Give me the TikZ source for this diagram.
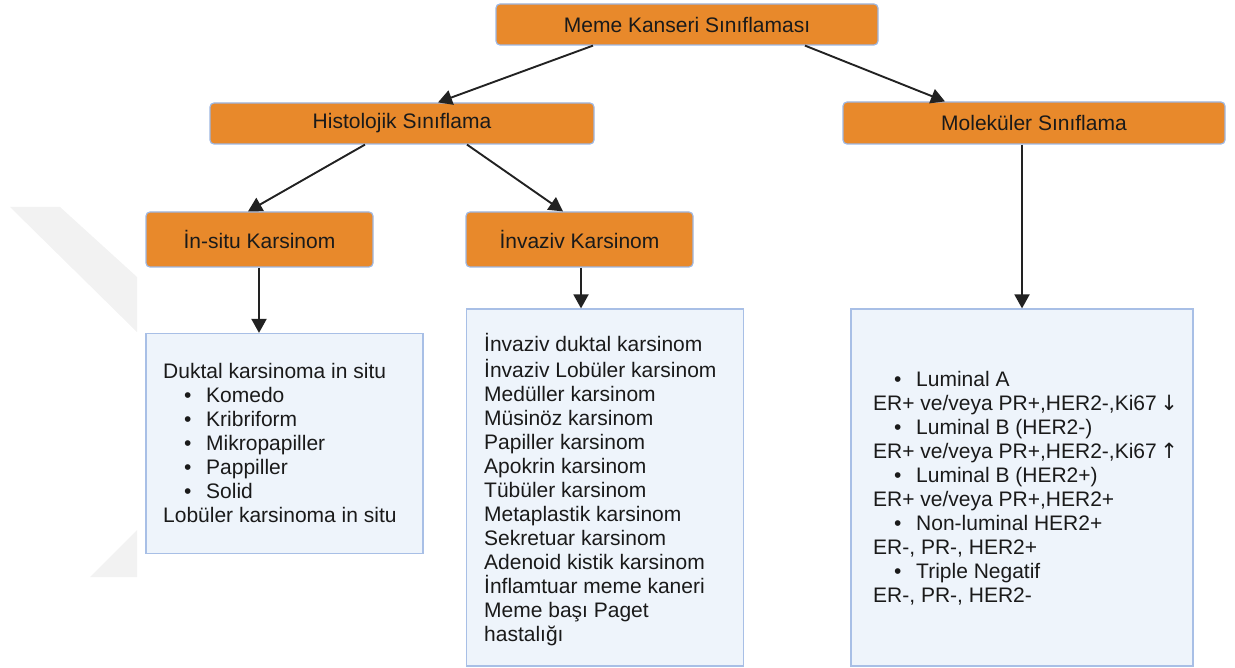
\documentclass[tikz,border=0pt]{standalone}
\usepackage{fontspec}
\setmainfont{Liberation Sans}
\newfontfamily\arrowfont{DejaVu Sans}
\usetikzlibrary{arrows.meta,calc}
\definecolor{boxorange}{HTML}{E8892B}
\definecolor{boxedge}{HTML}{9DB7E2}
\definecolor{listfill}{HTML}{EEF4FB}
\definecolor{listedge}{HTML}{A8BFE6}
\definecolor{arrowc}{HTML}{222222}
\definecolor{wm}{HTML}{F2F2F2}
\definecolor{txt}{HTML}{1A1A1A}
\newcommand{\bul}[1]{\makebox[43pt][l]{\hspace*{21pt}\textbullet}#1}
\begin{document}
\begin{tikzpicture}[x=1pt,y=-1pt,
  head/.style={draw=boxedge, fill=boxorange, line width=1.2pt, rounded corners=4pt,
    inner sep=0pt, font=\fontsize{21}{24}\selectfont, text=txt},
  listbox/.style={draw=listedge, fill=listfill, line width=1.2pt, inner sep=0pt},
  listtext/.style={anchor=north west, inner sep=0pt, align=left, text=txt,
    font=\fontsize{21}{24}\selectfont},
  conn/.style={draw=arrowc, line width=1.9pt, -{Triangle[length=14pt,width=15pt]}}]
\useasboundingbox (0,0) rectangle (1235,668);
% watermark
\fill[wm] (10,207) -- (60,207) -- (137,277) -- (137,332) -- cycle;
\fill[wm] (90,577) -- (137,530) -- (137,577) -- cycle;
% header boxes
\node[head, minimum width=382pt, minimum height=41pt] (root) at (687,24.5) {Meme Kanseri Sınıflaması};
\node[head, minimum width=384pt, minimum height=41pt] (histo) at (402,123.5) {Histolojik Sınıflama};
\node[head, minimum width=382pt, minimum height=42pt] (mol) at (1034,123) {Moleküler Sınıflama};
\node[head, minimum width=227pt, minimum height=55pt] (insitu) at (259.5,239.5) {İn-situ Karsinom};
\node[head, minimum width=227pt, minimum height=55pt] (inv) at (579.5,239.5) {İnvaziv Karsinom};
% list boxes
\node[listbox, minimum width=277pt, minimum height=220pt] (box1) at (284.5,443.5) {};
\node[listbox, minimum width=277pt, minimum height=357pt] (box2) at (605,487.5) {};
\node[listbox, minimum width=342pt, minimum height=357pt] (box3) at (1022,487.5) {};
% list texts
\node[listtext] (t1) at (163,361) {\strut Duktal karsinoma in situ\\
\bul{Komedo}\\
\bul{Kribriform}\\
\bul{Mikropapiller}\\
\bul{Pappiller}\\
\bul{Solid}\\
Lobüler karsinoma in situ};
\node[listtext] (t2) at (484,333) {\strut İnvaziv duktal karsinom\\
İnvaziv Lobüler karsinom\\
Medüller karsinom\\
Müsinöz karsinom\\
Papiller karsinom\\
Apokrin karsinom\\
Tübüler karsinom\\
Metaplastik karsinom\\
Sekretuar karsinom\\
Adenoid kistik karsinom\\
İnflamtuar meme kaneri\\
Meme başı Paget\\
hastalığı};
\node[listtext] (t3) at (873,369) {\strut\bul{Luminal A}\\
ER+ ve/veya PR+,HER2-,Ki67\,{\arrowfont ↓}\\
\bul{Luminal B (HER2-)}\\
ER+ ve/veya PR+,HER2-,Ki67\,{\arrowfont ↑}\\
\bul{Luminal B (HER2+)}\\
ER+ ve/veya PR+,HER2+\\
\bul{Non-luminal HER2+}\\
ER-, PR-, HER2+\\
\bul{Triple Negatif}\\
ER-, PR-, HER2-};
% connectors
\draw[conn] ([xshift=-94pt]root.south) -- ([xshift=36pt]histo.north);
\draw[conn] ([xshift=118pt]root.south) -- ([xshift=-89pt]mol.north);
\draw[conn] ([xshift=-37pt]histo.south) -- ([xshift=-11.5pt]insitu.north);
\draw[conn] ([xshift=65pt]histo.south) -- ([xshift=-16.5pt]inv.north);
\draw[conn] ([xshift=-0.5pt]insitu.south) -- ([xshift=-0.5pt]insitu.south |- box1.north);
\draw[conn] ([xshift=1.5pt]inv.south) -- ([xshift=1.5pt]inv.south |- box2.north);
\draw[conn] (box3.north |- mol.south) -- (box3.north);
\end{tikzpicture}
\end{document}
